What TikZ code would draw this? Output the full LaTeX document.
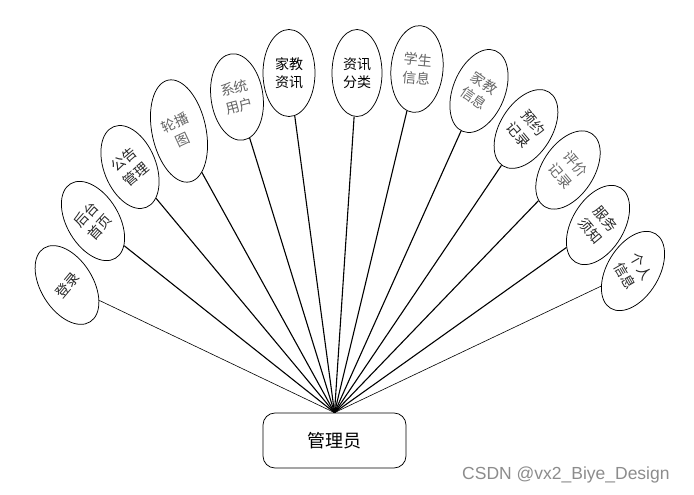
\documentclass[tikz,border=0pt]{standalone}
\usepackage{fontspec}
\setmainfont{Liberation Sans}
\newfontfamily\cjk{Noto Sans CJK SC}
\usetikzlibrary{shapes.geometric}
\begin{document}
\begin{tikzpicture}[x=1pt,y=-1pt,
  oval/.style={draw, ellipse, fill=white, line width=0.75pt, inner sep=0pt, minimum width=52pt, minimum height=87pt},
  lbl/.style={font=\cjk\fontsize{14}{18.5}\selectfont, align=center, inner sep=0pt, text=black!85},
  lbllight/.style={lbl, text=black!60},
  spoke/.style={line width=1.1pt},
  thinspoke/.style={line width=0.6pt},
  adminbox/.style={draw, rounded corners=12pt, line width=0.75pt, minimum width=143pt, minimum height=55pt, font=\cjk\fontsize{18}{20}\selectfont}
]
\useasboundingbox (0,0) rectangle (694,495);
\node[adminbox] (admin) at (334.5,440.5) {管理员};
% ellipses
\node[oval, rotate=32] (e1) at (67,285) {};
\node[oval, rotate=31] (e2) at (93,221) {};
\node[oval, rotate=22] (e3) at (130,167) {};
\node[oval, rotate=12, minimum width=54pt, minimum height=104pt] (e4) at (179,131) {};
\node[oval, rotate=8] (e5) at (237,97) {};
\node[oval] (e6) at (289,73) {};
\node[oval, minimum width=50pt] (e7) at (357,73) {};
\node[oval, rotate=-5] (e8) at (417,69) {};
\node[oval, rotate=-22] (e9) at (479,91) {};
\node[oval, rotate=-32] (e10) at (526,129) {};
\node[oval, rotate=-33] (e11) at (568,170) {};
\node[oval, rotate=-31] (e12) at (598,225) {};
\node[oval, rotate=-31] (e13) at (633,271) {};
% spokes
\draw[thinspoke] (admin.north) -- (e1);
\foreach \i in {2,...,12} \draw[spoke] (admin.north) -- (e\i);
\draw[thinspoke] (admin.north) -- (e13);
% labels
\node[lbl, rotate=50] (t1) at (67,285) {登录};
\node[lbl, rotate=48] (t2) at (93,221) {后台\\首页};
\node[lbl, rotate=40] (t3) at (130,167) {公告\\管理};
\node[lbllight, rotate=25] (t4) at (179,131) {轮播\\图};
\node[lbllight, rotate=15] (t5) at (237,97) {系统\\用户};
\node[lbl, text=black] (t6) at (289,73) {家教\\资讯};
\node[lbl, text=black] (t7) at (357,73) {资讯\\分类};
\node[lbllight, rotate=-5] (t8) at (417,69) {学生\\信息};
\node[lbllight, rotate=-35] (t9) at (479,91) {家教\\信息};
\node[lbl, rotate=-50] (t10) at (526,129) {预约\\记录};
\node[lbllight, rotate=-50] (t11) at (568,170) {评价\\记录};
\node[lbl, rotate=-50] (t12) at (598,225) {服务\\须知};
\node[lbl, rotate=-60] (t13) at (633,271) {个人\\信息};
\node[font=\fontsize{17.5}{19}\selectfont, text=black!45, anchor=west, inner sep=0pt] (wm) at (462,475) {CSDN @vx2\_Biye\_Design};
\end{tikzpicture}
\end{document}
